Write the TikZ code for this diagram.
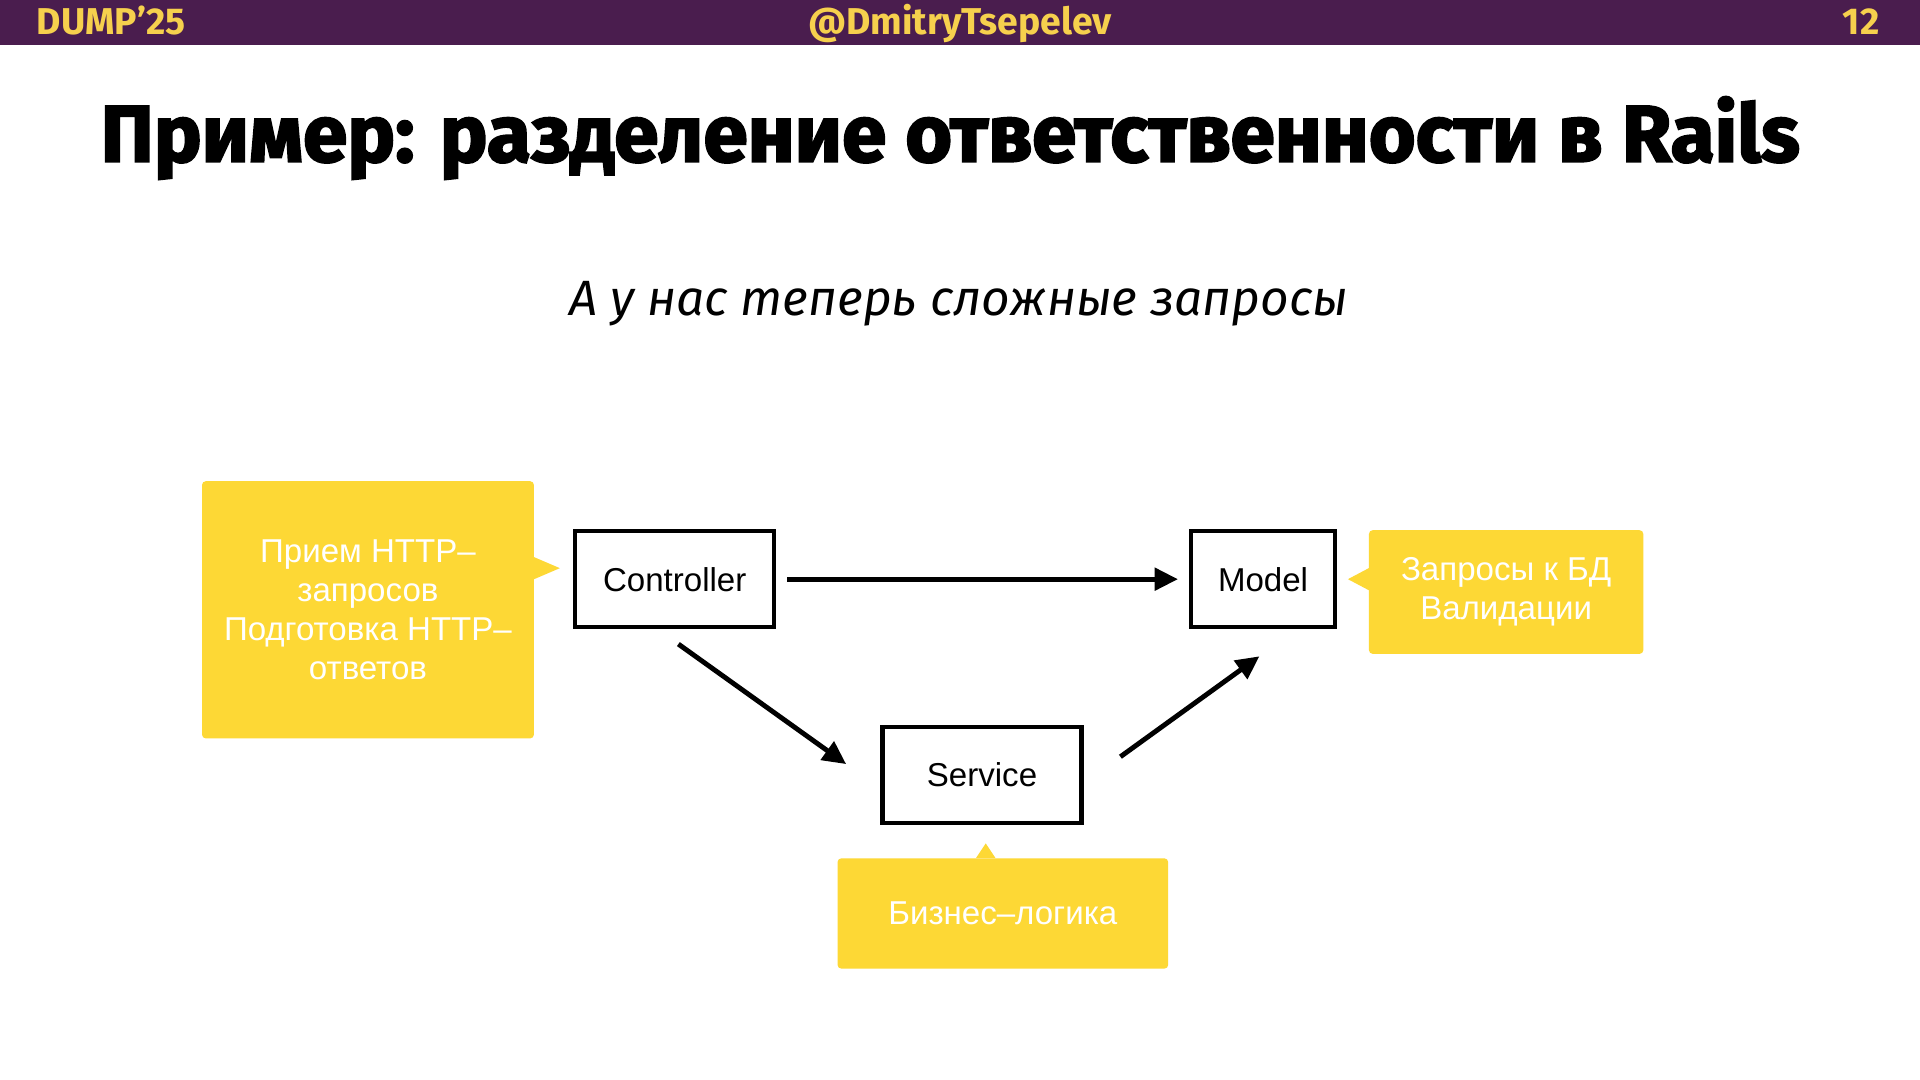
\documentclass[tikz,border=0pt]{standalone}
\usepackage{fontspec}
\setmainfont{Liberation Sans}
\newfontfamily\headfont{Fira Sans}[UprightFont={* Bold}, FakeBold=2.5]
\newfontfamily\subfont{Fira Sans}[UprightFont={* Italic}]
\newfontfamily\barfont{Fira Sans}[UprightFont={* Bold}]
\usetikzlibrary{arrows.meta}
\definecolor{barpurple}{HTML}{4A1D4E}
\definecolor{baryellow}{HTML}{F6D04D}
\definecolor{noteyellow}{HTML}{FDD835}
\begin{document}
\begin{tikzpicture}[x=1pt,y=-1pt,
    bartext/.style={text=baryellow, inner sep=0pt, font=\barfont\fontsize{30.5}{30.5}\selectfont},
    part/.style={draw, line width=3.5pt, minimum width=162.5pt, minimum height=78.5pt, font=\fontsize{27}{32}\selectfont},
    note/.style={fill=noteyellow, rounded corners=3pt, text=white, align=center, font=\fontsize{27}{32}\selectfont},
    link/.style={line width=4pt, -{Triangle[length=19pt,width=18pt]}}]
        \useasboundingbox (0,0) rectangle (1568,882);
        \fill[white] (0,0) rectangle (1568,882);
        \fill[barpurple] (0,0) rectangle (1568,37);

        \node[bartext, anchor=base west] (conf) at (30,28) {DUMP’25};
        \node[bartext, anchor=base] (handle) at (784,28) {@DmitryTsepelev};
        \node[bartext, anchor=base east] (page) at (1535,28) {12};

        \node[anchor=base, inner sep=0pt, font=\headfont\fontsize{65.5}{65.5}\selectfont] (title) at (776,132) {Пример: разделение ответственности в Rails};
        \node[anchor=base, inner sep=0pt, font=\subfont\fontsize{40.5}{40.5}\selectfont] (subtitle) at (783,258) {А у нас теперь сложные запросы};

        \node[part] (ctrl) at (551,473) {Controller};
        \node[part, minimum width=117.5pt] (model) at (1031.5,473) {Model};
        \node[part] (svc) at (802,633) {Service};

        \node[note, minimum width=271pt, minimum height=210pt] (httpnote) at (300.5,498) {Прием HTTP–\\запросов\\Подготовка HTTP–\\ответов};
        \node[note, minimum width=224pt, minimum height=101pt] (dbnote) at (1230,483.5) {Запросы к БД\\Валидации};
        \node[note, minimum width=270pt, minimum height=90pt] (logicnote) at (819,746) {Бизнес–логика};

        \fill[noteyellow] ([yshift=43pt]httpnote.east) -- ([xshift=21pt,yshift=34pt]httpnote.east) -- ([yshift=25pt]httpnote.east) -- cycle;
        \fill[noteyellow] ([yshift=19.5pt]dbnote.west) -- ([xshift=-17pt,yshift=10.5pt]dbnote.west) -- ([yshift=1.5pt]dbnote.west) -- cycle;
        \fill[noteyellow] ([xshift=-22pt]logicnote.north) -- ([xshift=-14pt,yshift=12pt]logicnote.north) -- ([xshift=-6pt]logicnote.north) -- cycle;

        \draw[link, shorten <=9pt, shorten >=9pt] (ctrl.east) -- (model.west);
        \draw[link] ([xshift=3pt,yshift=-12pt]ctrl.south) -- ([xshift=-28pt,yshift=-32pt]svc.north west);
        \draw[link] ([xshift=30pt,yshift=15pt]svc.east) -- ([xshift=-3pt,yshift=-22pt]model.south);

    \end{tikzpicture}
\end{document}
